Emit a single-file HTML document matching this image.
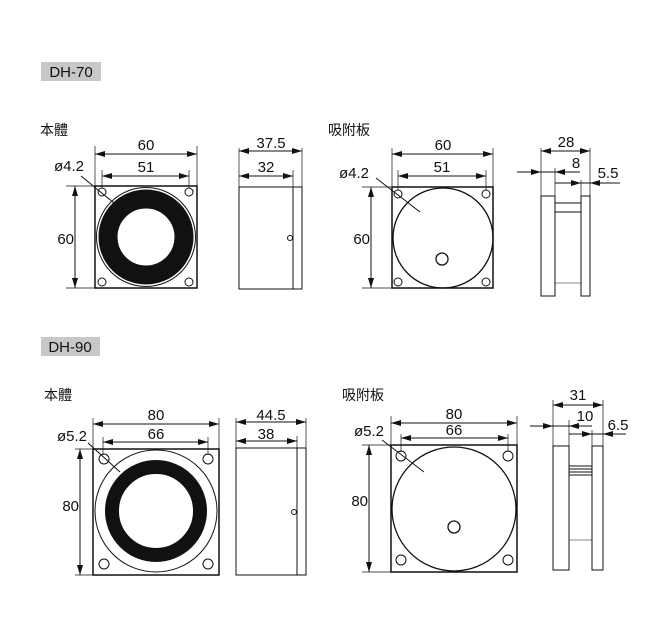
<!DOCTYPE html>
<html><head><meta charset="utf-8"><style>
body{margin:0;background:#fff;}
svg{display:block;font-family:"Liberation Sans","Noto Sans CJK TC",sans-serif;}
text{fill:#111;}
</style></head><body>
<svg width="660" height="630" viewBox="0 0 660 630" xmlns="http://www.w3.org/2000/svg">
<defs>
<marker id="a" viewBox="0 0 10 6" refX="10" refY="3" markerWidth="10" markerHeight="6" markerUnits="userSpaceOnUse" orient="auto-start-reverse"><path d="M0,0L10,3L0,6z" fill="#111"/></marker>
</defs>
<g stroke="#111" fill="none" stroke-width="1">
<rect x="41" y="62" width="60" height="19" fill="#c8c8c8" stroke="none"/>
<rect x="41" y="337" width="59" height="19" fill="#c8c8c8" stroke="none"/>

<rect x="95" y="186" width="102" height="102" stroke-width="1.5"/>
<circle cx="146" cy="237" r="49.5"/>
<circle cx="146" cy="237" r="38" stroke="#111" stroke-width="19"/>
<circle cx="102" cy="192" r="4"/><circle cx="189" cy="192" r="4"/>
<circle cx="102" cy="282" r="4"/><circle cx="189" cy="282" r="4"/>
<line x1="95" y1="146" x2="95" y2="186" stroke-width=".7"/>
<line x1="197" y1="146" x2="197" y2="186" stroke-width=".7"/>
<line x1="102" y1="170" x2="102" y2="188" stroke-width=".7"/>
<line x1="189" y1="170" x2="189" y2="188" stroke-width=".7"/>
<line x1="95" y1="154" x2="197" y2="154" marker-start="url(#a)" marker-end="url(#a)"/>
<line x1="102" y1="176" x2="189" y2="176" marker-start="url(#a)" marker-end="url(#a)"/>
<line x1="66" y1="186" x2="95" y2="186" stroke-width=".7"/>
<line x1="66" y1="288" x2="95" y2="288" stroke-width=".7"/>
<line x1="75" y1="186" x2="75" y2="288" marker-start="url(#a)" marker-end="url(#a)"/>
<line x1="81" y1="176" x2="114" y2="203"/>
<rect x="239" y="187" width="54" height="102"/>
<rect x="293" y="187" width="9" height="102"/>
<circle cx="290" cy="238" r="2.5"/>
<line x1="239" y1="148" x2="239" y2="187" stroke-width=".7"/>
<line x1="302" y1="148" x2="302" y2="187" stroke-width=".7"/>
<line x1="293" y1="170" x2="293" y2="187" stroke-width=".7"/>
<line x1="239" y1="151" x2="302" y2="151" marker-start="url(#a)" marker-end="url(#a)"/>
<line x1="239" y1="176" x2="293" y2="176" marker-start="url(#a)" marker-end="url(#a)"/>

<rect x="392" y="187" width="101" height="101" stroke-width="1.5"/>
<circle cx="443" cy="238" r="50" stroke-width="1.3"/>
<circle cx="442" cy="259" r="6" stroke-width="1.3"/>
<circle cx="398" cy="194" r="4"/><circle cx="486" cy="194" r="4"/>
<circle cx="398" cy="282" r="4"/><circle cx="486" cy="282" r="4"/>
<line x1="392" y1="148" x2="392" y2="187" stroke-width=".7"/>
<line x1="493" y1="148" x2="493" y2="187" stroke-width=".7"/>
<line x1="398" y1="170" x2="398" y2="190" stroke-width=".7"/>
<line x1="486" y1="170" x2="486" y2="190" stroke-width=".7"/>
<line x1="392" y1="154" x2="493" y2="154" marker-start="url(#a)" marker-end="url(#a)"/>
<line x1="398" y1="176" x2="486" y2="176" marker-start="url(#a)" marker-end="url(#a)"/>
<line x1="362" y1="187" x2="392" y2="187" stroke-width=".7"/>
<line x1="362" y1="288" x2="392" y2="288" stroke-width=".7"/>
<line x1="371" y1="187" x2="371" y2="288" marker-start="url(#a)" marker-end="url(#a)"/>
<line x1="376" y1="178" x2="420" y2="212"/>
<rect x="541" y="196" width="14" height="100"/>
<rect x="581" y="196" width="9" height="100"/>
<line x1="555" y1="203" x2="581" y2="203"/>
<line x1="555" y1="212" x2="581" y2="212"/>
<line x1="555" y1="283" x2="581" y2="283" stroke-width=".6"/>
<line x1="541" y1="148" x2="541" y2="196" stroke-width=".7"/>
<line x1="590" y1="148" x2="590" y2="196" stroke-width=".7"/>
<line x1="555" y1="168" x2="555" y2="196" stroke-width=".7"/>
<line x1="581" y1="180" x2="581" y2="196" stroke-width=".7"/>
<line x1="541" y1="151" x2="590" y2="151" marker-start="url(#a)" marker-end="url(#a)"/>
<line x1="517" y1="172" x2="541" y2="172" marker-end="url(#a)"/>
<line x1="541" y1="172" x2="580" y2="172"/>
<line x1="580" y1="172" x2="555" y2="172" marker-end="url(#a)"/>
<line x1="555" y1="183" x2="581" y2="183" marker-end="url(#a)"/>
<line x1="581" y1="183" x2="590" y2="183"/>
<line x1="620" y1="183" x2="590" y2="183" marker-end="url(#a)"/>

<rect x="93" y="449" width="126" height="126" stroke-width="1.5"/>
<circle cx="156" cy="511" r="61"/>
<circle cx="156" cy="511" r="44" stroke="#111" stroke-width="14"/>
<circle cx="104" cy="459" r="5"/><circle cx="208" cy="459" r="5"/>
<circle cx="104" cy="564" r="5"/><circle cx="208" cy="564" r="5"/>
<line x1="93" y1="418" x2="93" y2="449" stroke-width=".7"/>
<line x1="219" y1="418" x2="219" y2="449" stroke-width=".7"/>
<line x1="103" y1="437" x2="103" y2="455" stroke-width=".7"/>
<line x1="208" y1="437" x2="208" y2="455" stroke-width=".7"/>
<line x1="93" y1="424" x2="219" y2="424" marker-start="url(#a)" marker-end="url(#a)"/>
<line x1="103" y1="442" x2="208" y2="442" marker-start="url(#a)" marker-end="url(#a)"/>
<line x1="75" y1="449" x2="93" y2="449" stroke-width=".7"/>
<line x1="75" y1="575" x2="93" y2="575" stroke-width=".7"/>
<line x1="80" y1="449" x2="80" y2="575" marker-start="url(#a)" marker-end="url(#a)"/>
<line x1="88" y1="443" x2="120" y2="472"/>
<rect x="236" y="448" width="61" height="127"/>
<rect x="297" y="448" width="9" height="127"/>
<circle cx="294" cy="512" r="2.5"/>
<line x1="236" y1="418" x2="236" y2="448" stroke-width=".7"/>
<line x1="306" y1="418" x2="306" y2="448" stroke-width=".7"/>
<line x1="297" y1="436" x2="297" y2="448" stroke-width=".7"/>
<line x1="236" y1="422" x2="306" y2="422" marker-start="url(#a)" marker-end="url(#a)"/>
<line x1="236" y1="441" x2="297" y2="441" marker-start="url(#a)" marker-end="url(#a)"/>

<rect x="391" y="445" width="126" height="127" stroke-width="1.5"/>
<circle cx="454" cy="509" r="62" stroke-width="1.3"/>
<circle cx="454" cy="527" r="6" stroke-width="1.3"/>
<circle cx="401" cy="456" r="5"/><circle cx="508" cy="456" r="5"/>
<circle cx="401" cy="560" r="5"/><circle cx="508" cy="560" r="5"/>
<line x1="391" y1="416" x2="391" y2="445" stroke-width=".7"/>
<line x1="517" y1="416" x2="517" y2="445" stroke-width=".7"/>
<line x1="401" y1="434" x2="401" y2="452" stroke-width=".7"/>
<line x1="508" y1="434" x2="508" y2="452" stroke-width=".7"/>
<line x1="391" y1="423" x2="517" y2="423" marker-start="url(#a)" marker-end="url(#a)"/>
<line x1="401" y1="438" x2="508" y2="438" marker-start="url(#a)" marker-end="url(#a)"/>
<line x1="362" y1="445" x2="391" y2="445" stroke-width=".7"/>
<line x1="362" y1="572" x2="391" y2="572" stroke-width=".7"/>
<line x1="369" y1="445" x2="369" y2="572" marker-start="url(#a)" marker-end="url(#a)"/>
<line x1="382" y1="440" x2="424" y2="472"/>
<rect x="553" y="446" width="16" height="124"/>
<rect x="592" y="446" width="11" height="124"/>
<line x1="569" y1="466" x2="592" y2="466"/>
<line x1="569" y1="469" x2="592" y2="469"/>
<line x1="569" y1="472" x2="592" y2="472"/>
<line x1="569" y1="475" x2="592" y2="475"/>
<line x1="569" y1="540" x2="592" y2="540" stroke-width=".6"/>
<line x1="553" y1="400" x2="553" y2="446" stroke-width=".7"/>
<line x1="603" y1="400" x2="603" y2="446" stroke-width=".7"/>
<line x1="569" y1="420" x2="569" y2="446" stroke-width=".7"/>
<line x1="592" y1="430" x2="592" y2="446" stroke-width=".7"/>
<line x1="553" y1="405" x2="603" y2="405" marker-start="url(#a)" marker-end="url(#a)"/>
<line x1="530" y1="426" x2="553" y2="426" marker-end="url(#a)"/>
<line x1="553" y1="426" x2="592" y2="426"/>
<line x1="592" y1="426" x2="569" y2="426" marker-end="url(#a)"/>
<line x1="569" y1="434" x2="592" y2="434" marker-end="url(#a)"/>
<line x1="592" y1="434" x2="603" y2="434"/>
<line x1="626" y1="434" x2="603" y2="434" marker-end="url(#a)"/>
</g>
<g font-size="15" text-anchor="middle">
<text x="71" y="77" font-size="15">DH-70</text>
<text x="70" y="352" font-size="15">DH-90</text>
<text x="146" y="150">60</text><text x="146" y="172">51</text>
<text x="74" y="244" text-anchor="end">60</text>
<text x="271" y="148">37.5</text><text x="266" y="172">32</text>
<text x="443" y="150">60</text><text x="442" y="172">51</text>
<text x="370" y="244" text-anchor="end">60</text>
<text x="566" y="147">28</text><text x="576" y="168">8</text><text x="608" y="178">5.5</text>
<text x="156" y="420">80</text><text x="156" y="439">66</text>
<text x="79" y="511" text-anchor="end">80</text>
<text x="271" y="420">44.5</text><text x="266" y="439">38</text>
<text x="454" y="419">80</text><text x="454" y="435">66</text>
<text x="368" y="506" text-anchor="end">80</text>
<text x="578" y="400">31</text><text x="585" y="421">10</text><text x="618" y="430">6.5</text>
</g>
<g font-size="15">
<text x="54" y="171">ø4.2</text>
<text x="339" y="178">ø4.2</text>
<text x="57" y="441">ø5.2</text>
<text x="354" y="436">ø5.2</text>
<text x="40" y="135" font-size="14">本體</text>
<text x="328" y="135" font-size="14">吸附板</text>
<text x="44" y="400" font-size="14">本體</text>
<text x="342" y="400" font-size="14">吸附板</text>
</g>
</svg>
</body></html>
